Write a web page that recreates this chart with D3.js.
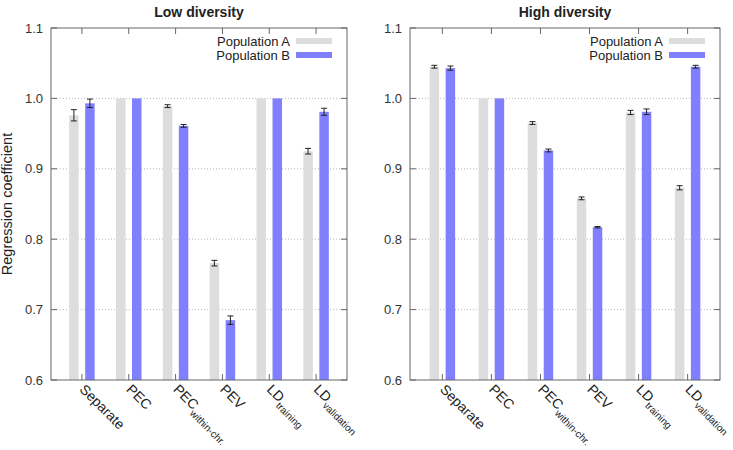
<!DOCTYPE html>
<html><head><meta charset="utf-8">
<script src="https://cdn.jsdelivr.net/npm/d3@7"></script>
<style>body{margin:0;background:#fff}text{font-family:"Liberation Sans",Arial,sans-serif}</style>
</head><body><svg id="c" width="733" height="450"></svg>
<script>
const categories = [
  {main:"Separate", sub:""},
  {main:"PEC", sub:""},
  {main:"PEC", sub:"within-chr."},
  {main:"PEV", sub:""},
  {main:"LD", sub:"training"},
  {main:"LD", sub:"validation"}
];
const seriesNames = ["Population A","Population B"];
const yTicks = [0.6,0.7,0.8,0.9,1.0,1.1];
const panelTitles = ["Low diversity","High diversity"];
// Low diversity
const lowA = [0.976, 1.000, 0.989, 0.766, 1.000, 0.925];
const lowAErr = [0.008, 0, 0.002, 0.004, 0, 0.004];
const lowB = [0.993, 1.000, 0.961, 0.685, 1.000, 0.981];
const lowBErr = [0.006, 0, 0.002, 0.006, 0, 0.005];
// High diversity
const highA = [1.045, 1.000, 0.965, 0.858, 0.980, 0.873];
const highAErr = [0.002, 0, 0.002, 0.002, 0.003, 0.003];
const highB = [1.043, 1.000, 0.926, 0.817, 0.981, 1.045];
const highBErr = [0.003, 0, 0.002, 0.001, 0.004, 0.002];

const colors = ["#dddddd","#8080ff"];
const svg = d3.select("#c");

const panels = [
  {x0:51, x1:347, vals:[lowA,lowB], errs:[lowAErr,lowBErr], title:panelTitles[0]},
  {x0:410, x1:720, vals:[highA,highB], errs:[highAErr,highBErr], title:panelTitles[1]}
];
const plotTop = 28, plotBottom = 380;

panels.forEach(p => {
  const g = svg.append("g");
  const x = d3.scaleLinear().domain([-0.66, 5.66]).range([p.x0, p.x1]);
  const y = d3.scaleLinear().domain([0.6, 1.1]).range([plotBottom, plotTop]);
  const bw = 9.5, off = 8;

  // grid
  g.selectAll("line.grid").data(yTicks.filter(t => t>0.6 && t<1.1)).enter().append("line")
    .attr("x1", p.x0).attr("x2", p.x1).attr("y1", d=>y(d)).attr("y2", d=>y(d))
    .attr("stroke","#aaa").attr("stroke-width",0.8).attr("stroke-dasharray","1,2");

  // bars
  p.vals.forEach((vals, si) => {
    const dx = si===0 ? -off : off;
    g.selectAll(null).data(vals).enter().append("rect")
      .attr("x", (d,i)=>x(i)+dx-bw/2).attr("width", bw)
      .attr("y", d=>y(d)).attr("height", d=>y(0.6)-y(d))
      .attr("fill", colors[si]);
    const eg = g.append("g").attr("stroke","#222").attr("stroke-width",1);
    vals.forEach((v,i) => {
      const e = p.errs[si][i];
      if (e <= 0) return;
      const cx = x(i)+dx;
      eg.append("line").attr("x1",cx).attr("x2",cx).attr("y1",y(v-e)).attr("y2",y(v+e));
      eg.append("line").attr("x1",cx-3).attr("x2",cx+3).attr("y1",y(v-e)).attr("y2",y(v-e));
      eg.append("line").attr("x1",cx-3).attr("x2",cx+3).attr("y1",y(v+e)).attr("y2",y(v+e));
    });
  });

  // frame
  g.append("rect").attr("x",p.x0).attr("y",plotTop).attr("width",p.x1-p.x0).attr("height",plotBottom-plotTop)
    .attr("fill","none").attr("stroke","#666").attr("stroke-width",1);

  // y ticks
  yTicks.forEach(t => {
    g.append("line").attr("x1",p.x0).attr("x2",p.x0+6).attr("y1",y(t)).attr("y2",y(t)).attr("stroke","#666");
    g.append("line").attr("x1",p.x1-6).attr("x2",p.x1).attr("y1",y(t)).attr("y2",y(t)).attr("stroke","#666");
    g.append("text").attr("x",p.x0-8).attr("y",y(t)).attr("dy","0.35em").attr("text-anchor","end")
      .attr("font-size",13).attr("fill","#333").text(d3.format(".1f")(t));
  });
  // x ticks
  categories.forEach((c,i) => {
    const cx = x(i);
    g.append("line").attr("x1",cx).attr("x2",cx).attr("y1",plotBottom).attr("y2",plotBottom-6).attr("stroke","#666");
    g.append("line").attr("x1",cx).attr("x2",cx).attr("y1",plotTop).attr("y2",plotTop+6).attr("stroke","#666");
    const t = g.append("text").attr("transform",`translate(${cx+4},${plotBottom+3}) rotate(45)`)
      .attr("font-size",14).attr("fill","#222").attr("dy","0.72em");
    t.append("tspan").text(c.main);
    if (c.sub) t.append("tspan").attr("font-size",10).attr("dy",5).text(c.sub);
  });

  // title
  g.append("text").attr("x",(p.x0+p.x1)/2).attr("y",17).attr("text-anchor","middle")
    .attr("font-size",14).attr("font-weight","bold").attr("fill","#222").text(p.title);

  // legend
  seriesNames.forEach((s,si) => {
    const ly = 41 + si*14;
    g.append("text").attr("x",p.x1-57).attr("y",ly).attr("dy","0.35em").attr("text-anchor","end")
      .attr("font-size",13).attr("fill","#222").text(s);
    g.append("rect").attr("x",p.x1-51).attr("y",ly-3).attr("width",36).attr("height",6).attr("fill",colors[si]);
  });
});

svg.append("text").attr("transform",`translate(12,${(plotTop+plotBottom)/2}) rotate(-90)`)
  .attr("text-anchor","middle").attr("font-size",14.5).attr("fill","#222").text("Regression coefficient");
</script></body></html>
